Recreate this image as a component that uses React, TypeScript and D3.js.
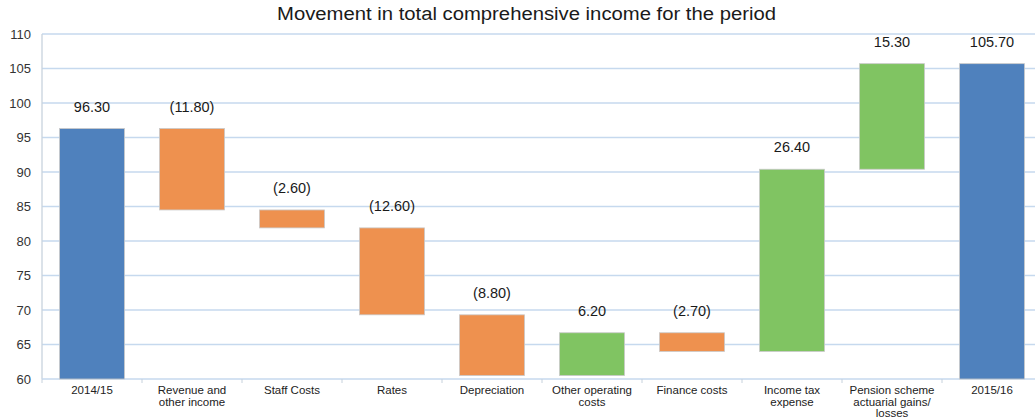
import React from "react";
import * as d3 from "d3";

const categories: string[][] = [
  ["2014/15"],
  ["Revenue and", "other income"],
  ["Staff Costs"],
  ["Rates"],
  ["Depreciation"],
  ["Other operating", "costs"],
  ["Finance costs"],
  ["Income tax", "expense"],
  ["Pension scheme", "actuarial gains/", "losses"],
  ["2015/16"],
];
const startValue = 96.3;
const changes = [-11.8, -2.6, -12.6, -8.8, 6.2, -2.7, 26.4, 15.3];
const endValue = 105.7;
const yTicks = [60, 65, 70, 75, 80, 85, 90, 95, 100, 105, 110];

const W = 1035;
const H = 419;
const left = 42;
const right = 1042;
const top = 34;
const bottom = 379;

const BLUE = "#4f81bd";
const ORANGE = "#ee914f";
const GREEN = "#80c462";

type Bar = { label: string[]; y0: number; y1: number; text: string; color: string };

function buildBars(): Bar[] {
  const bars: Bar[] = [];
  bars.push({ label: categories[0], y0: 60, y1: startValue, text: startValue.toFixed(2), color: BLUE });
  let run = startValue;
  changes.forEach((c, i) => {
    const next = run + c;
    bars.push({
      label: categories[i + 1],
      y0: Math.min(run, next),
      y1: Math.max(run, next),
      text: c < 0 ? `(${Math.abs(c).toFixed(2)})` : c.toFixed(2),
      color: c < 0 ? ORANGE : GREEN,
    });
    run = next;
  });
  bars.push({ label: categories[9], y0: 60, y1: endValue, text: endValue.toFixed(2), color: BLUE });
  return bars;
}

export default function App() {
  const bars = buildBars();
  const x = d3
    .scaleBand<number>()
    .domain(d3.range(bars.length))
    .range([left, right])
    .paddingInner(0.35)
    .paddingOuter(0.175);
  const band = d3.scaleBand<number>().domain(d3.range(bars.length)).range([left, right]);
  const y = d3.scaleLinear().domain([60, 110]).range([bottom, top]);
  const font = "Liberation Sans, Arial, sans-serif";

  return (
    <svg
      width={W}
      height={H}
      style={{ position: "absolute", left: 0, top: 0, background: "#fff" }}
      fontFamily={font}
    >
      <rect width={W} height={H} fill="#fff" />
      <text
        x={526.5}
        y={20}
        textAnchor="middle"
        fontSize={18}
        fill="#1a1a1a"
        textLength={499}
        lengthAdjust="spacingAndGlyphs"
      >
        Movement in total comprehensive income for the period
      </text>
      {yTicks.map((t) => (
        <g key={t}>
          {t > 60 && (
            <line x1={left} x2={W} y1={y(t)} y2={y(t)} stroke="#c6d9ee" strokeWidth={1.3} />
          )}
          <text x={31} y={y(t) + 4.5} textAnchor="end" fontSize={13} fill="#333">
            {t}
          </text>
        </g>
      ))}
      <line x1={left} x2={left} y1={top} y2={bottom} stroke="#c8d3de" strokeWidth={1.3} />
      <line x1={left} x2={W} y1={bottom} y2={bottom} stroke="#c6d9ee" strokeWidth={1.5} />
      {d3.range(bars.length + 1).map((i) => {
        const xx = i < bars.length ? band(i)! : right;
        return <line key={i} x1={xx} x2={xx} y1={bottom} y2={bottom + 4} stroke="#c6d1dc" strokeWidth={1} />;
      })}
      {bars.map((b, i) => {
        const bx = x(i)!;
        const bw = x.bandwidth();
        const cx = bx + bw / 2;
        return (
          <g key={i}>
            <rect
              x={bx}
              y={y(b.y1)}
              width={bw}
              height={y(b.y0) - y(b.y1)}
              fill={b.color}
              stroke="#c9c9c9"
              strokeWidth={0.8}
            />
            <text x={cx} y={y(b.y1) - 17} textAnchor="middle" fontSize={14.5} fill="#1a1a1a">
              {b.text}
            </text>
            {b.label.map((l, j) => (
              <text
                key={j}
                x={band(i)! + band.bandwidth() / 2}
                y={394 + j * 11.7}
                textAnchor="middle"
                fontSize={11.5}
                fill="#222"
              >
                {l}
              </text>
            ))}
          </g>
        );
      })}
    </svg>
  );
}
